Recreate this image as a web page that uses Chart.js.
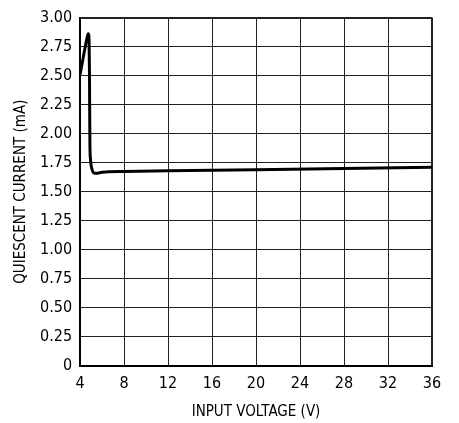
<!DOCTYPE html>
<html>
<head>
<meta charset="utf-8">
<script src="https://cdn.jsdelivr.net/npm/chart.js@4/dist/chart.umd.min.js"></script>
<style>
  html, body { margin: 0; padding: 0; background: #fff; }
</style>
</head>
<body>
<canvas id="qChart" width="459" height="423"></canvas>
<script>
// QUIESCENT CURRENT vs INPUT VOLTAGE
const inputVoltage = [4, 4.3, 4.6, 4.75, 4.82, 4.86, 4.88, 4.9, 4.95, 5.1, 5.3, 5.6, 6, 8, 12, 20, 28, 36];
const quiescentCurrent = [2.51, 2.66, 2.81, 2.86, 2.8, 2.5, 2.15, 1.9, 1.78, 1.69, 1.66, 1.66, 1.668, 1.675, 1.68, 1.69, 1.70, 1.71];
const xTicks = [4, 8, 12, 16, 20, 24, 28, 32, 36];
const yTicks = [0, 0.25, 0.5, 0.75, 1, 1.25, 1.5, 1.75, 2, 2.25, 2.5, 2.75, 3];

const fontFamily = "'Liberation Sans Narrow', 'DejaVu Sans Condensed', 'Roboto', sans-serif";

const points = inputVoltage.map(function (v, i) {
  return { x: v, y: quiescentCurrent[i] };
});

const ctx = document.getElementById("qChart");

new Chart(ctx, {
  type: "line",

  data: {
    datasets: [
      {
        data: points,
        borderColor: "#000",
        borderWidth: 3,
        pointRadius: 0,
        cubicInterpolationMode: "monotone",
        fill: false,
      },
    ],
  },

  options: {
    responsive: false,
    animation: false,
    layout: {
      padding: { top: 4, right: 27, left: 12, bottom: 2 },
    },
    plugins: {
      legend: { display: false },
      tooltip: { enabled: false },
    },
    scales: {
      x: {
        type: "linear",
        min: 4,
        max: 36,
        afterBuildTicks: function (axis) {
          axis.ticks = xTicks.map(function (v) { return { value: v }; });
        },
        grid: {
          color: "#222",
          lineWidth: function (c) { return c.tick && c.tick.value === 36 ? 2 : 1; },
          drawTicks: false,
        },
        border: { color: "#000", width: 2 },
        ticks: {
          color: "#000",
          padding: 8,
          font: { family: fontFamily, size: 16 },
        },
        title: {
          display: true,
          text: "INPUT VOLTAGE (V)",
          color: "#000",
          font: { family: fontFamily, size: 15 },
          padding: { top: 2, bottom: 0 },
        },
      },
      y: {
        min: 0,
        max: 3,
        afterBuildTicks: function (axis) {
          axis.ticks = yTicks.map(function (v) { return { value: v }; });
        },
        grid: {
          color: "#222",
          lineWidth: function (c) { return c.tick && c.tick.value === 3 ? 2 : 1; },
          drawTicks: false,
        },
        border: { color: "#000", width: 2 },
        ticks: {
          color: "#000",
          padding: 8,
          font: { family: fontFamily, size: 16 },
          callback: function (value) {
            return value === 0 ? "0" : value.toFixed(2);
          },
        },
        title: {
          display: true,
          text: "QUIESCENT CURRENT (mA)",
          color: "#000",
          font: { family: fontFamily, size: 15 },
          padding: { top: 0, bottom: 2 },
        },
      },
    },
  },
});
</script>
</body>
</html>
